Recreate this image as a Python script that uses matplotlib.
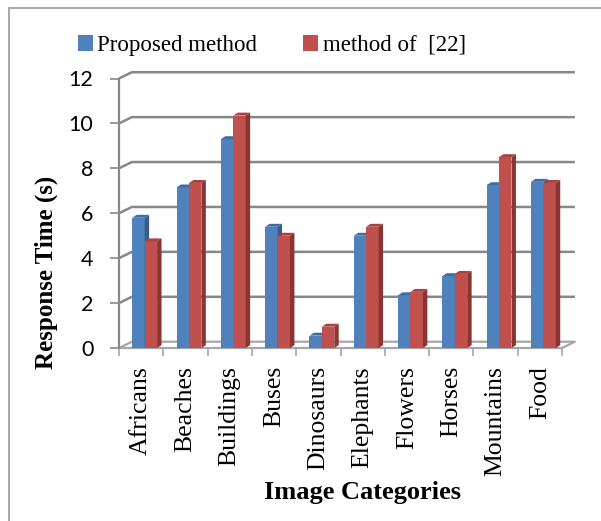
import numpy as np
import matplotlib
matplotlib.use("Agg")
import matplotlib.pyplot as plt
from matplotlib.patches import Polygon, Patch
from matplotlib.lines import Line2D


CATEGORIES = ["Africans", "Beaches", "Buildings", "Buses", "Dinosaurs",
              "Elephants", "Flowers", "Horses", "Mountains", "Food"]
PROPOSED = [5.8, 7.15, 9.3, 5.4, 0.55, 5.0, 2.35, 3.2, 7.25, 7.4]
METHOD_22 = [4.75, 7.35, 10.35, 5.0, 0.95, 5.4, 2.5, 3.3, 8.5, 7.35]
Y_TICKS = [0, 2, 4, 6, 8, 10, 12]
LEGEND_LABELS = ["Proposed method", "method of  [22]"]

BLUE = {"front": "#4F81BD", "top": "#3E6CA4", "side": "#385D8A"}
RED = {"front": "#C0504D", "top": "#A9423F", "side": "#8A3532"}

SERIF = "Liberation Serif"
GRID = "#878787"
FLOOR = "#A6A6A6"

# fake depth (data units) for the bars and the back wall
BAR_DX, BAR_DY = 0.10, 0.13
WALL_DX, WALL_DY = 0.29, 0.28


def add_depth(ax, bars, colors):
  """Adds a top face and a right side face to every bar"""
  for rect in bars:
    x0 = rect.get_x()
    x1 = x0 + rect.get_width()
    h = rect.get_height()
    top = Polygon([(x0, h), (x1, h), (x1 + BAR_DX, h + BAR_DY), (x0 + BAR_DX, h + BAR_DY)],
                  closed=True, facecolor=colors["top"], edgecolor="none", zorder=3)
    side = Polygon([(x1, 0), (x1 + BAR_DX, BAR_DY), (x1 + BAR_DX, h + BAR_DY), (x1, h)],
                   closed=True, facecolor=colors["side"], edgecolor="none", zorder=3)
    ax.add_patch(top)
    ax.add_patch(side)


def draw_walls(ax, n):
  """Back wall gridlines, side wall diagonals and the floor"""
  for y in Y_TICKS[1:]:
    ax.plot([0, WALL_DX, n + WALL_DX], [y, y + WALL_DY, y + WALL_DY],
            color=GRID, lw=1.8, clip_on=False, zorder=1, solid_capstyle="butt")
  ax.plot([0, n, n + WALL_DX, WALL_DX, 0], [0, 0, WALL_DY, WALL_DY, 0],
          color=FLOOR, lw=1.6, clip_on=False, zorder=1)
  ax.plot([0, 0], [0, Y_TICKS[-1]], color=GRID, lw=1.6, clip_on=False, zorder=1)


def main():
  fig = plt.figure(figsize=(6.01, 5.21), dpi=100)
  ax = fig.add_axes([119 / 601, 1 - 348 / 521, 443 / 601, 269.5 / 521])

  n = len(CATEGORIES)
  idx = np.arange(n)
  width = 0.28

  draw_walls(ax, n)

  blue_bars = ax.bar(idx + 0.30, PROPOSED, width=width, align="edge",
                     color=BLUE["front"], linewidth=0, zorder=3)
  add_depth(ax, blue_bars, BLUE)
  red_bars = ax.bar(idx + 0.30 + width, METHOD_22, width=width, align="edge",
                    color=RED["front"], linewidth=0, zorder=3)
  add_depth(ax, red_bars, RED)

  ax.set_xlim(0, n)
  ax.set_ylim(0, 12)
  for s in ax.spines.values():
    s.set_visible(False)

  ax.set_yticks(Y_TICKS)
  ax.set_yticklabels([str(t) for t in Y_TICKS], fontfamily="Lato", fontsize=15.5)
  ax.tick_params(axis="y", length=6.5, width=1.2, color=GRID, pad=12)

  ax.set_xticks(idx + 0.5)
  ax.set_xticklabels(CATEGORIES, rotation=90, fontfamily=SERIF, fontsize=18.5)
  ax.set_xticks(np.arange(n + 1), minor=True)
  ax.tick_params(axis="x", which="major", length=0, pad=13)
  ax.tick_params(axis="x", which="minor", length=5.5, width=1.2, color=FLOOR)

  fig.text(46 / 601, 1 - 272 / 521, "Response Time (s)", rotation=90,
           ha="center", va="center", fontfamily=SERIF, fontweight="bold", fontsize=18)
  fig.text(362 / 601, 1 - 493 / 521, "Image Categories",
           ha="center", va="center", fontfamily=SERIF, fontweight="bold", fontsize=19)

  handles = [Patch(facecolor=BLUE["front"]), Patch(facecolor=RED["front"])]
  fig.legend(handles, LEGEND_LABELS, ncol=2, loc="upper left",
             bbox_to_anchor=(78 / 601, 1 - 35 / 521), frameon=False,
             prop={"family": SERIF, "size": 16.5}, handlelength=0.65,
             handleheight=0.65, handletextpad=0.2, columnspacing=2.0,
             borderpad=0, borderaxespad=0)

  # frame around the whole chart
  fig.add_artist(Line2D([8.5 / 601, 8.5 / 601], [0, 1 - 7.5 / 521], color="#A0A0A0", lw=1.3))
  fig.add_artist(Line2D([8.5 / 601, 1], [1 - 7.5 / 521, 1 - 7.5 / 521], color="#A0A0A0", lw=1.3))

  fig.savefig("out.png", dpi=100)


if __name__ == "__main__":
  main()
